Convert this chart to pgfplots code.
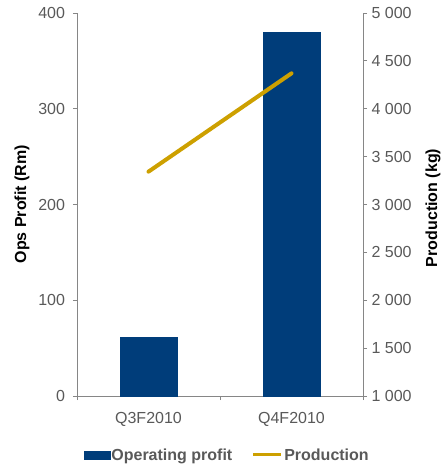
\documentclass[border=0pt]{standalone}
\usepackage{fontspec}
\setmainfont{Liberation Sans}
\usepackage{pgfplots}
\pgfplotsset{compat=1.18}
\definecolor{barblue}{RGB}{0,61,122}
\definecolor{gold}{RGB}{205,160,0}
\definecolor{axgray}{RGB}{134,134,134}
\definecolor{txtgray}{RGB}{89,89,89}
\begin{document}
\begin{tikzpicture}
\useasboundingbox (-77pt,-72pt) rectangle (364pt,396pt);
\begin{axis}[
  at={(0,0)}, anchor=south west,
  scale only axis, width=286pt, height=383pt,
  xmin=-0.5, xmax=1.5, ymin=0, ymax=400,
  axis x line*=bottom, axis y line*=left,
  axis line style={draw=axgray, line width=0.8pt},
  every tick/.style={draw=axgray, line width=0.8pt},
  tick align=outside, major tick length=4pt,
  xtick={-0.5,0.5,1.5}, xticklabels={},
  extra x ticks={0,1}, extra x tick labels={Q3F2010,Q4F2010},
  extra x tick style={major tick length=0pt, xticklabel style={yshift=-13pt}},
  ytick={0,100,200,300,400},
  tick label style={font=\fontsize{16}{18}\selectfont, text=txtgray},
  yticklabel style={xshift=-4.5pt},
  /pgf/number format/assume math mode=true,
  ylabel={\bfseries Ops Profit (Rm)},
  ylabel style={font=\fontsize{16}{18}\selectfont, at={(axis description cs:-0.192,0.501)}, anchor=center},
  legend style={draw=none, fill=none, at={(axis description cs:0.524,-0.154)}, anchor=center,
    font=\fontsize{16}{18}\selectfont\bfseries, text=txtgray, legend columns=2,
    /tikz/every even column/.append style={column sep=18pt},
    nodes={inner sep=1.5pt}},
  legend cell align=left,
]
\addplot[ybar, bar width=57pt, fill=barblue, draw=barblue,
  legend image code/.code={\fill[barblue] (0pt,-4pt) rectangle (26pt,4pt);}]
  coordinates {(0,61) (1,380)};
\addlegendentry{Operating profit}
\addlegendimage{gold, line width=3pt, legend image code/.code={\draw[gold, line width=3pt] (0pt,0pt) -- (28pt,0pt);}}
\addlegendentry{Production}
\end{axis}
\begin{axis}[
  at={(0,0)}, anchor=south west,
  scale only axis, width=286pt, height=383pt,
  xmin=-0.5, xmax=1.5, ymin=1000, ymax=5000,
  axis x line=none, axis y line*=right,
  axis line style={draw=axgray, line width=0.8pt},
  every tick/.style={draw=axgray, line width=0.8pt},
  tick align=outside, major tick length=4pt,
  ytick={1000,1500,...,5000},
  tick label style={font=\fontsize{16}{18}\selectfont, text=txtgray},
  yticklabel style={xshift=1pt},
  /pgf/number format/assume math mode=true,
  /pgf/number format/1000 sep={\ },
  ylabel={\bfseries Production (kg)},
  ylabel style={font=\fontsize{16}{18}\selectfont, at={(axis description cs:1.245,0.491)}, anchor=center},
]
\addplot[gold, line width=4pt, line cap=round] coordinates {(0,3343) (1,4370)};
\end{axis}
\end{tikzpicture}
\end{document}
